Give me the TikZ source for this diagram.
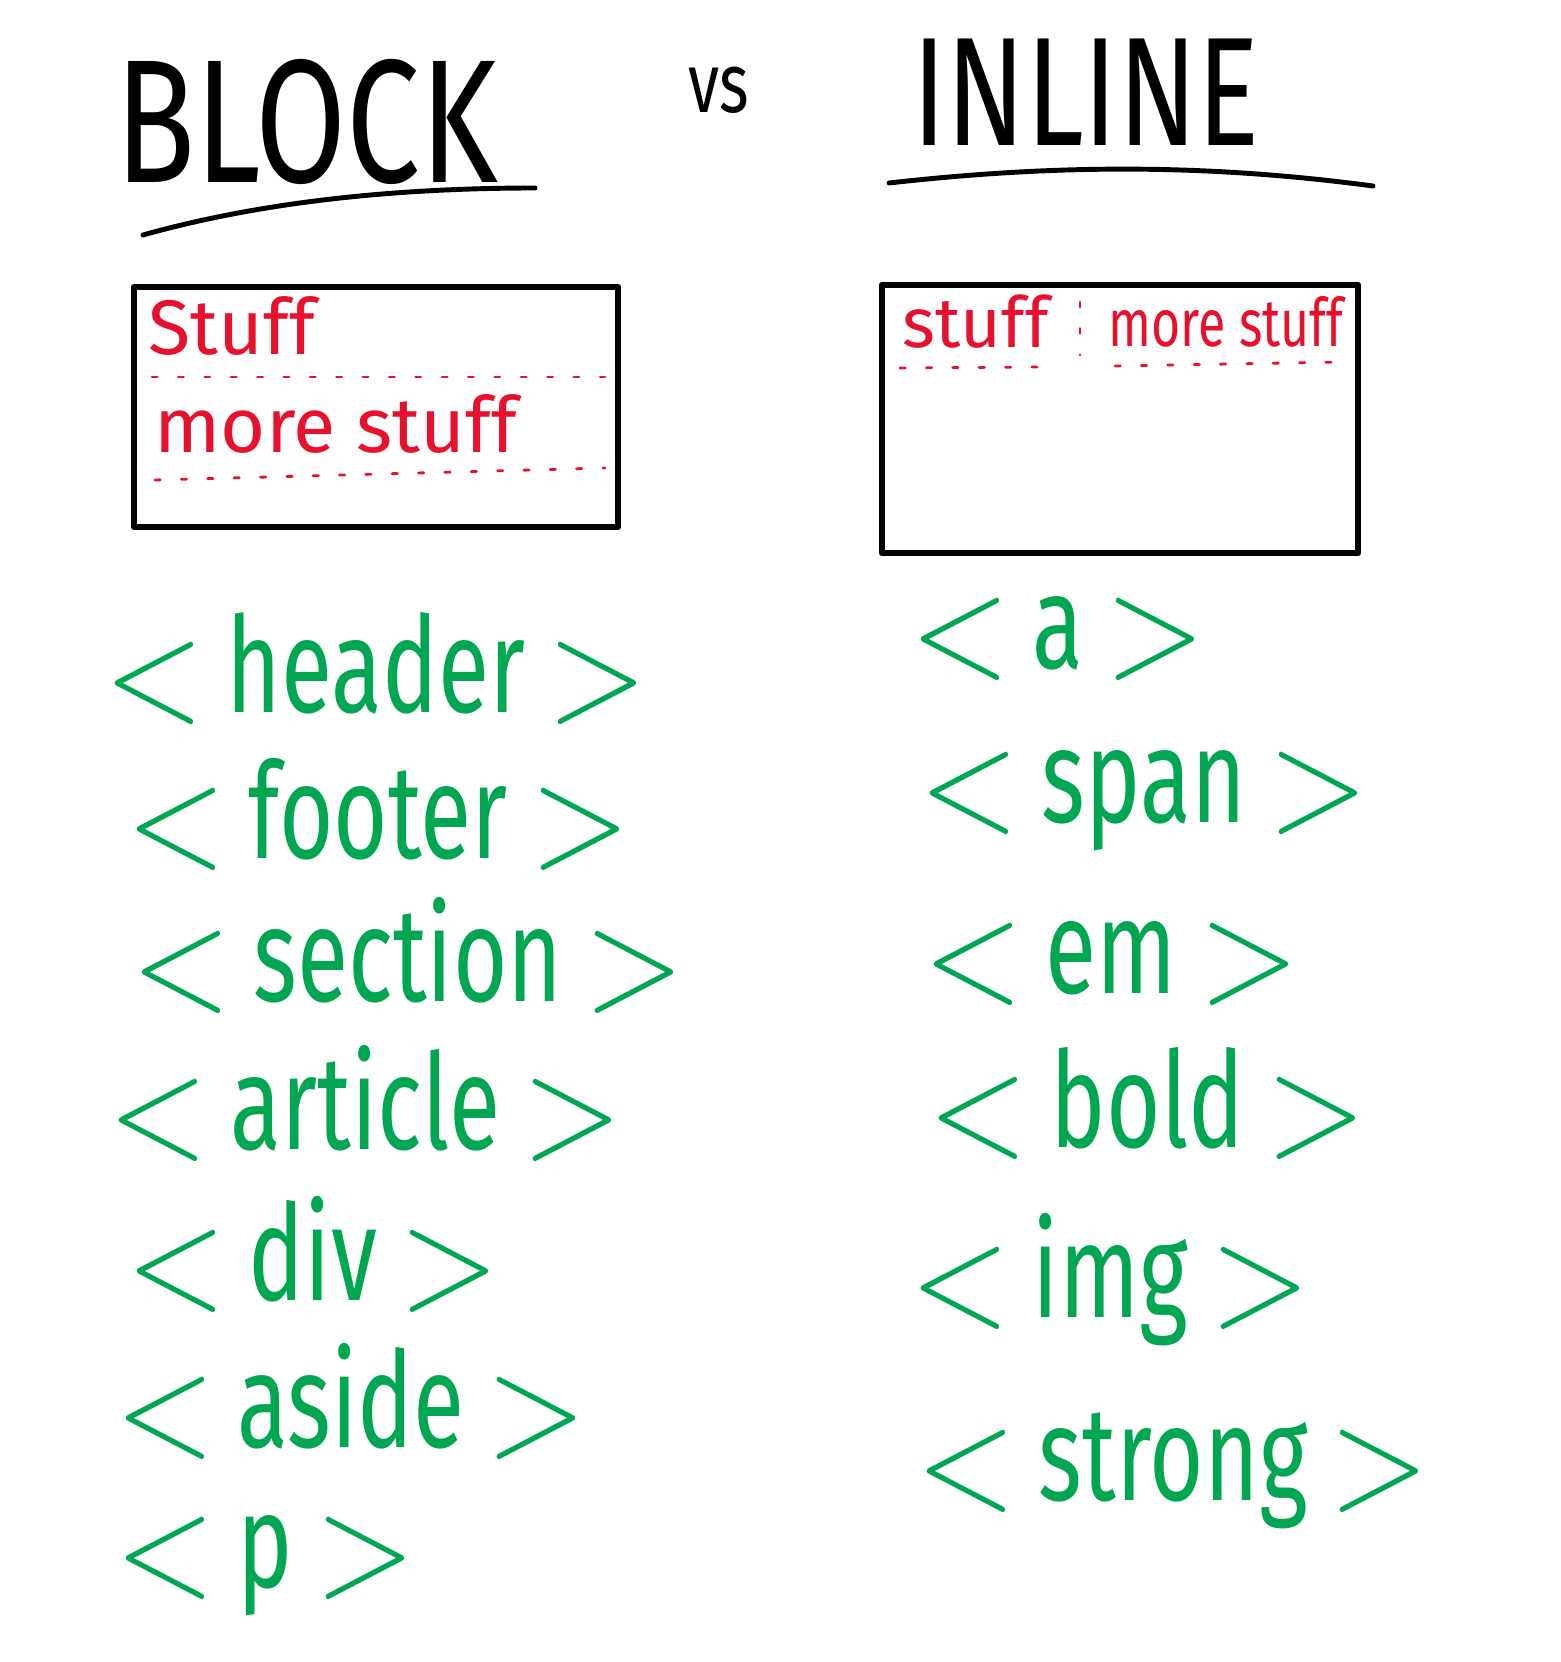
\documentclass[tikz,border=0pt]{standalone}
\usepackage{fontspec}
\setmainfont{Fira Sans}
\newfontfamily\narrowfont[FakeStretch=0.75]{Fira Sans}
\newfontfamily\tagfont[FakeStretch=0.7]{Fira Sans}
\usepackage{tikz}
\usetikzlibrary{positioning}

\definecolor{tagGreen}{HTML}{00A651}
\definecolor{stuffRed}{HTML}{E8112D}

% big thin brackets round a tag name
\newcommand{\brk}[1]{\raisebox{-0.06em}{\scalebox{1.5}[1.7]{$#1$}}}
\newcommand{\tagname}[1]{\brk{<}\,#1\,\brk{>}}

\begin{document}
\begin{tikzpicture}[
            x=0.1mm,y=-0.1mm,
            title/.style={inner sep=0pt,font=\narrowfont\fontsize{50}{50}\selectfont},
            uline/.style={line width=1.4pt,line cap=round},
            box/.style={draw,line width=1.8pt,line cap=round,line join=round},
            stufftxt/.style={text=stuffRed,inner sep=0pt,anchor=west,font=\fontsize{22}{22}\selectfont},
            dots/.style={stuffRed,line width=0.8pt,line cap=round,dash pattern=on 1.5pt off 6pt},
            tag/.style={text=tagGreen,inner sep=0pt,anchor=base west,font=\tagfont\fontsize{38}{38}\selectfont}
        ]
        \useasboundingbox (0,0) rectangle (1560,1662);
        % titles
        \node[title] (blocktitle) at (307,122) {BLOCK};
        \node[inner sep=0pt,font=\narrowfont\fontsize{24}{24}\selectfont] (vs) at (719,90) {vs};
        \node[title,font=\narrowfont\fontsize{44}{44}\selectfont] (inlinetitle) at (1086,92) {INLINE};
        \draw[uline] (143,235) .. controls (250,205) and (380,188) .. (535,188);
        \draw[uline] (889,183) .. controls (1050,165) and (1200,163) .. (1373,186);
        % boxes
        \draw[box] (134,287) rectangle (618,527);
        \draw[box] (882,285) rectangle (1358,553);
        % block box
        \node[stufftxt] (stuffA) at (148,326) {Stuff};
        \draw[dots] (152,377) -- (605,377);
        \node[stufftxt] (morestuffA) at (154,424) {more stuff};
        \draw[dots] (155,480) -- (605,468);
        % inline box
        \node[stufftxt,font=\fontsize{20}{20}\selectfont] (stuffB) at (902,322) {stuff};
        \draw[dots] (1080,302) -- (1080,355);
        \node[stufftxt,font=\narrowfont\fontsize{19}{19}\selectfont] (morestuffB) at (1108,322) {more stuff};
        \draw[dots] (900,368) -- (1045,367);
        \draw[dots] (1115,366) -- (1342,362);
        % block tags
        \node[tag] (header) at (104,712) {\tagname{header}};
        \node[tag] (footer) at (126,858) {\tagname{footer}};
        \node[tag] (section) at (131,1001) {\tagname{section}};
        \node[tag] (article) at (108,1149) {\tagname{article}};
        \node[tag] (div) at (126,1300) {\tagname{div}};
        \node[tag] (aside) at (115,1447) {\tagname{aside}};
        \node[tag] (p) at (115,1587) {\tagname{p}};
        % inline tags
        \node[tag] (a) at (910,668) {\tagname{a}};
        \node[tag] (span) at (919,822) {\tagname{span}};
        \node[tag] (em) at (923,993) {\tagname{em}};
        \node[tag] (bold) at (928,1147) {\tagname{bold}};
        \node[tag] (img) at (910,1317) {\tagname{img}};
        \node[tag] (strong) at (916,1500) {\tagname{strong}};
\end{tikzpicture}
\end{document}
